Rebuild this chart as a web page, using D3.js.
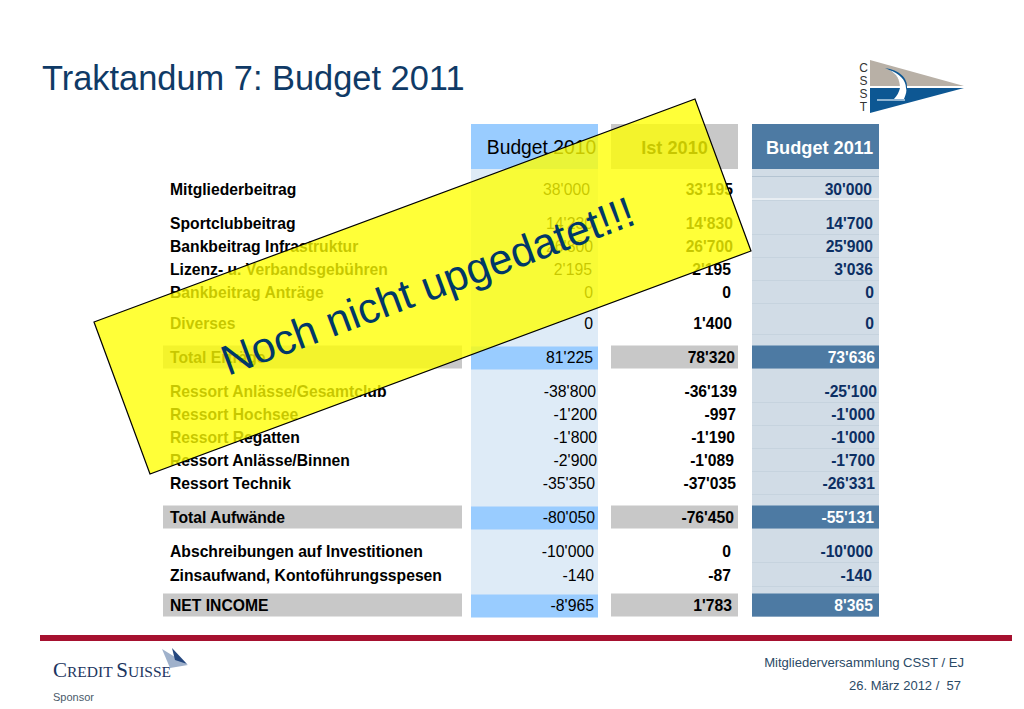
<!DOCTYPE html>
<head>
    <meta charset="utf-8">
    <script src="https://d3js.org/d3.v7.js"></script>
    <style>
        html, body { margin: 0; background: #fff; }
        text { font-family: "Liberation Sans", Arial, sans-serif; }
    </style>
</head>
<body>
    <svg id="slide" width="1024" height="709"></svg>
    <script>
        // Data
        const rowLabels = ["Mitgliederbeitrag", "Sportclubbeitrag", "Bankbeitrag Infrastruktur", "Lizenz- u. Verbandsgebühren", "Bankbeitrag Anträge", "Diverses", "Total Erträge", "Ressort Anlässe/Gesamtclub", "Ressort Hochsee", "Ressort Regatten", "Ressort Anlässe/Binnen", "Ressort Technik", "Total Aufwände", "Abschreibungen auf Investitionen", "Zinsaufwand, Kontoführungsspesen", "NET INCOME"];
        const totalRows = ["Total Erträge", "Total Aufwände", "NET INCOME"];
        const columnNames = ["Budget 2010", "Ist 2010", "Budget 2011"];
        const budget2010 = [38000, 14230, 26800, 2195, 0, 0, 81225, -38800, -1200, -1800, -2900, -35350, -80050, -10000, -140, -8965];
        const ist2010 = [33195, 14830, 26700, 2195, 0, 1400, 78320, -36139, -997, -1190, -1089, -37035, -76450, 0, -87, 1783];
        const budget2011 = [30000, 14700, 25900, 3036, 0, 0, 73636, -25100, -1000, -1000, -1700, -26331, -55131, -10000, -140, 8365];
        const columnValues = [budget2010, ist2010, budget2011];

        // Layout: distance from one row centre to the next
        const rowSteps = [190, 34, 23, 23, 23, 31, 34, 34, 23, 23, 23, 23, 34, 34, 24, 30];
        const rowHeight = 23;
        // The pasted columns do not line up exactly, right edge of each cell
        const rightEdges = [
            [590, 593, 593, 592, 593, 593, 593, 596, 597, 597, 597, 595, 595, 594, 594, 594],
            [733, 733, 733, 731, 731, 732, 735, 737, 736, 735, 734, 736, 734, 731, 731, 732],
            [872, 873, 873, 873, 874, 874, 875, 877, 875, 875, 875, 875, 874, 873, 872, 873]
        ];

        const svg = d3.select("#slide");
        const swiss = d3.formatLocale({ decimal: ".", thousands: "'", grouping: [3], currency: ["", ""], minus: "-" });
        const fmt = swiss.format(",d");

        const y = d3.scaleOrdinal().domain(rowLabels).range(Array.from(d3.cumsum(rowSteps)));
        const x = d3.scaleOrdinal().domain(columnNames).range([471, 611, 752]);
        const colWidth = 127;

        const colStyle = {
            "Budget 2010": { body: "#deebf7", total: "#99ccff", headText: "#000", text: "#000", weight: "normal", size: 15.8, headSize: 19.3, headX: 541.5 },
            "Ist 2010": { body: "none", total: "#c8c8c8", headText: "#000", text: "#000", weight: "bold", size: 15.7, headSize: 18.2, headX: 674.5 },
            "Budget 2011": { body: "#d1dce6", total: "#4d7aa3", headText: "#fff", text: "#0c2f63", weight: "bold", size: 15.7, headSize: 18.2, headX: 819.5 }
        };

        // Title
        svg.append("text").attr("x", 42).attr("y", 90)
            .attr("font-size", 34.4).attr("fill", "#0f3a66").text("Traktandum 7: Budget 2011");

        // Column backgrounds and headers
        const cols = svg.selectAll("g.col").data(columnNames).join("g").attr("class", "col");
        cols.append("rect")
            .attr("x", d => x(d)).attr("y", 169).attr("width", colWidth).attr("height", 447)
            .attr("fill", d => colStyle[d].body);
        cols.append("rect")
            .attr("x", d => x(d)).attr("y", 124).attr("width", colWidth).attr("height", 45)
            .attr("fill", d => colStyle[d].total);
        cols.append("text")
            .attr("x", d => colStyle[d].headX).attr("y", 154)
            .attr("text-anchor", "middle")
            .attr("font-size", d => colStyle[d].headSize)
            .attr("font-weight", d => d === "Budget 2010" ? "normal" : "bold")
            .attr("fill", d => colStyle[d].headText)
            .text(d => d);

        // Faint row lines in the Budget 2011 column
        svg.selectAll("line.rule").data(rowLabels).join("line").attr("class", "rule")
            .attr("x1", x("Budget 2011")).attr("x2", x("Budget 2011") + colWidth)
            .attr("y1", d => y(d) + rowHeight / 2 - 1).attr("y2", d => y(d) + rowHeight / 2 - 1)
            .attr("stroke", "#c6d3de").attr("stroke-width", 1);
        svg.append("line").attr("x1", 752).attr("x2", 879).attr("y1", 176.5).attr("y2", 176.5).attr("stroke", "#b4c4d2");
        svg.append("line").attr("x1", 752).attr("x2", 879).attr("y1", 199).attr("y2", 199).attr("stroke", "#fff");

        // Total bands
        svg.selectAll("rect.labelband").data(totalRows).join("rect").attr("class", "labelband")
            .attr("x", 163).attr("width", 299).attr("y", d => y(d) - rowHeight / 2 - 1).attr("height", rowHeight)
            .attr("fill", "#c8c8c8");
        columnNames.forEach((c, i) => {
            svg.selectAll("rect.band" + i).data(totalRows).join("rect")
                .attr("class", "band" + i)
                .attr("x", x(c)).attr("width", colWidth)
                .attr("y", d => y(d) - rowHeight / 2 - (i ? 1 : 0)).attr("height", rowHeight)
                .attr("fill", colStyle[c].total);
        });

        // Row labels
        svg.selectAll("text.label").data(rowLabels).join("text").attr("class", "label")
            .attr("x", 170).attr("y", d => y(d) + 5)
            .attr("font-size", 15.7).attr("font-weight", "bold").attr("fill", "#000")
            .text(d => d);

        // Cell values
        columnNames.forEach((c, i) => {
            const st = colStyle[c];
            svg.selectAll("text.val" + i).data(columnValues[i]).join("text").attr("class", "val" + i)
                .attr("x", (d, j) => rightEdges[i][j]).attr("y", (d, j) => y(rowLabels[j]) + 5)
                .attr("text-anchor", "end")
                .attr("font-size", st.size).attr("font-weight", st.weight)
                .attr("fill", (d, j) => c === "Budget 2011" && totalRows.includes(rowLabels[j]) ? "#fff" : st.text)
                .text(d => fmt(d));
        });

        // Sticker across the table
        const sticker = d3.line()([[94, 322], [695, 99], [751, 251], [150, 474]]) + "Z";
        svg.append("path").attr("d", sticker)
            .attr("fill", "#ffff00").attr("fill-opacity", 0.78)
            .attr("stroke", "#000").attr("stroke-width", 1.2);
        svg.append("text")
            .attr("transform", "translate(228,376) rotate(-20.4)")
            .attr("font-size", 42.5).attr("fill", "#003868")
            .text("Noch nicht upgedatet!!!");

        // CSST pennant
        const logo = svg.append("g").attr("class", "csst");
        logo.append("path").attr("d", "M870,60L964,86L870,86Z").attr("fill", "#b8b0a6");
        logo.append("path").attr("d", "M870,88L964,88L870,113Z").attr("fill", "#0d5793");
        logo.append("path").attr("d", "M885,68C899,70 908,78 907,88L901,88C901,80 896,72 885,68Z").attr("fill", "#0d5793");
        logo.append("path").attr("d", "M889,70C897,74 900,80 900,88C899,92 897,96 894,99L904,99C906,94 907,91 906,88C906,80 899,73 889,70Z").attr("fill", "#fff");
        logo.append("rect").attr("x", 877).attr("y", 99).attr("width", 28).attr("height", 2).attr("fill", "#8fb4d2");
        logo.selectAll("text").data(["C", "S", "S", "T"]).join("text")
            .attr("x", 863.5).attr("y", (d, i) => 72 + i * 13)
            .attr("text-anchor", "middle").attr("font-size", 12).attr("fill", "#333")
            .text(d => d);

        // Footer
        svg.append("rect").attr("x", 40).attr("y", 635).attr("width", 972).attr("height", 6).attr("fill", "#a6112f");
        const cs = svg.append("text").attr("x", 53).attr("y", 677)
            .style("font-family", "'Liberation Serif', serif").attr("font-size", 21).attr("fill", "#1c3560");
        cs.append("tspan").text("C");
        cs.append("tspan").attr("font-size", 15.5).text("REDIT ");
        cs.append("tspan").text("S");
        cs.append("tspan").attr("font-size", 15.5).text("UISSE");
        svg.append("path").attr("d", "M162,649L188,665L170,668Z").attr("fill", "#9fb1cb");
        svg.append("path").attr("d", "M172,648L187,664L175,660Z").attr("fill", "#24477f");
        svg.append("text").attr("x", 53).attr("y", 701).attr("font-size", 11).attr("fill", "#4a5a6a").text("Sponsor");
        svg.append("text").attr("x", 964).attr("y", 667).attr("text-anchor", "end").attr("font-size", 13.1).attr("fill", "#2b4a66").text("Mitgliederversammlung CSST / EJ");
        svg.append("text").attr("x", 961).attr("y", 690).attr("text-anchor", "end").attr("font-size", 13).attr("fill", "#2b4a66").attr("xml:space", "preserve").text("26. März 2012 /  57");
    </script>
</body>
